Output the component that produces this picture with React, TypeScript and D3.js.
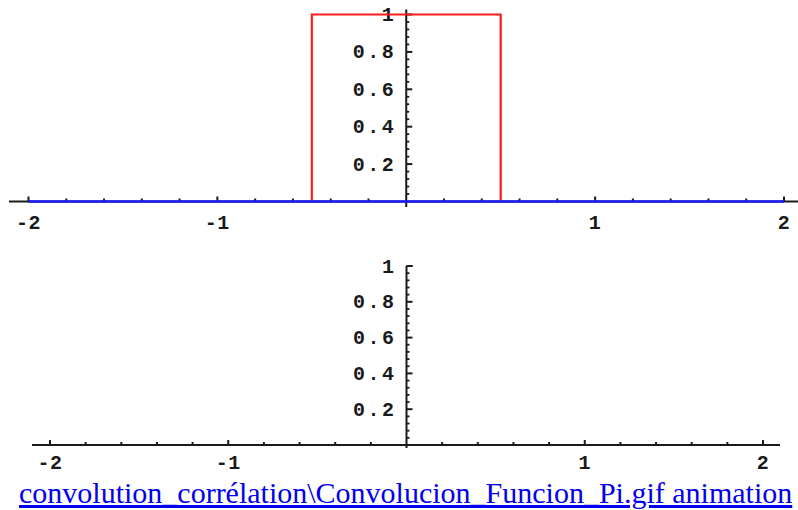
import React from "react";
import * as d3 from "d3";

// Rectangular pulse Π(x) and the sliding copy (currently zero on the visible range)
const pulseX = [-0.5, -0.5, 0.5, 0.5];
const pulseY = [0, 1, 1, 0];
const slideX = [-2, 2];
const slideY = [0, 0];

// Axis ticks
const xMajor = [-2, -1, 1, 2];
const xLabels = ["-2", "-1", "1", "2"];
const yMajor = [0.2, 0.4, 0.6, 0.8, 1];
const yLabels = ["0.2", "0.4", "0.6", "0.8", "1"];
const xMinorStep = 0.2;
const yMinorStep = 0.04;

const W = 798;
const H = 510;
const tickFont = "'Liberation Mono', 'DejaVu Sans Mono', monospace";
const ink = "#1a1a1a";

type Panel = {
  x: d3.ScaleLinear<number, number>;
  y: d3.ScaleLinear<number, number>;
  axisX: [number, number];
  axisY: [number, number];
  labelDy: number;
};

const top: Panel = {
  x: d3.scaleLinear().domain([-2, 2]).range([28.5, 784]),
  y: d3.scaleLinear().domain([0, 1]).range([201.5, 14.5]),
  axisX: [9, 798],
  axisY: [9.5, 207],
  labelDy: 27,
};

const bottom: Panel = {
  x: d3.scaleLinear().domain([-2, 2]).range([50, 763]),
  y: d3.scaleLinear().domain([0, 1]).range([445, 266]),
  axisX: [32, 780],
  axisY: [266, 448],
  labelDy: 24,
};

const xMinor = d3.range(-2, 2.0001, xMinorStep).filter((v) => Math.abs(v - Math.round(v)) > 1e-6);
const yMinor = d3.range(yMinorStep, 1.0001, yMinorStep).filter(
  (v) => Math.abs(v / 0.2 - Math.round(v / 0.2)) > 1e-6
);

function Axes({ p, bracketTop }: { p: Panel; bracketTop?: boolean }) {
  const x0 = p.x(0);
  const y0 = p.y(0);
  return (
    <g>
      <line x1={p.axisX[0]} x2={p.axisX[1]} y1={y0} y2={y0} stroke={ink} strokeWidth={2} />
      <line x1={x0} x2={x0} y1={p.axisY[0]} y2={p.axisY[1]} stroke={ink} strokeWidth={2} />
      {bracketTop && (
        <line x1={x0} x2={x0 + 6} y1={p.y(1)} y2={p.y(1)} stroke={ink} strokeWidth={2} />
      )}
      {xMinor.map((v, i) => (
        <line key={"xm" + i} x1={p.x(v)} x2={p.x(v)} y1={y0} y2={y0 - 3} stroke={ink} strokeWidth={2} />
      ))}
      {xMajor.map((v, i) => (
        <line key={"xM" + i} x1={p.x(v)} x2={p.x(v)} y1={y0} y2={y0 - 5} stroke={ink} strokeWidth={2} />
      ))}
      {yMinor.map((v, i) => (
        <line key={"ym" + i} x1={x0} x2={x0 + 3} y1={p.y(v)} y2={p.y(v)} stroke={ink} strokeWidth={1.8} />
      ))}
      {yMajor.map((v, i) => (
        <line key={"yM" + i} x1={x0} x2={x0 + 6} y1={p.y(v)} y2={p.y(v)} stroke={ink} strokeWidth={2} />
      ))}
      {xMajor.map((v, i) => (
        <text
          key={"xl" + i}
          x={p.x(v)}
          y={y0 + p.labelDy}
          textAnchor="middle"
          fontFamily={tickFont}
          fontWeight="bold"
          fontSize={20}
          letterSpacing={0.5}
          fill={ink}
        >
          {xLabels[i]}
        </text>
      ))}
      {yMajor.map((v, i) => (
        <text
          key={"yl" + i}
          x={x0 - 10}
          y={p.y(v) + 6.5}
          textAnchor="end"
          fontFamily={tickFont}
          fontWeight="bold"
          fontSize={20}
          letterSpacing={2.5}
          fill={ink}
        >
          {yLabels[i]}
        </text>
      ))}
    </g>
  );
}

export default function App() {
  const pulseLine = d3
    .line<number>()
    .x((_, i) => top.x(pulseX[i]))
    .y((_, i) => top.y(pulseY[i]));
  const slideLine = d3
    .line<number>()
    .x((_, i) => top.x(slideX[i]))
    .y((_, i) => top.y(slideY[i]));

  return (
    <svg
      width={W}
      height={H}
      viewBox={`0 0 ${W} ${H}`}
      style={{ position: "absolute", left: 0, top: 0, background: "#fff" }}
    >
      <rect width={W} height={H} fill="#fff" />
      <Axes p={top} />
      <path d={pulseLine(pulseX) || ""} fill="none" stroke="#ff1a1a" strokeWidth={2.2} />
      <path d={slideLine(slideX) || ""} fill="none" stroke="#1a1aff" strokeWidth={2.5} />
      <Axes p={bottom} bracketTop />
      <text
        x={19}
        y={503}
        fontFamily="'Liberation Serif', 'Times New Roman', serif"
        fontSize={30}
        fill="#0000ee"
        textDecoration="underline"
      >
        convolution_corrélation\Convolucion_Funcion_Pi.gif animation
      </text>
    </svg>
  );
}
